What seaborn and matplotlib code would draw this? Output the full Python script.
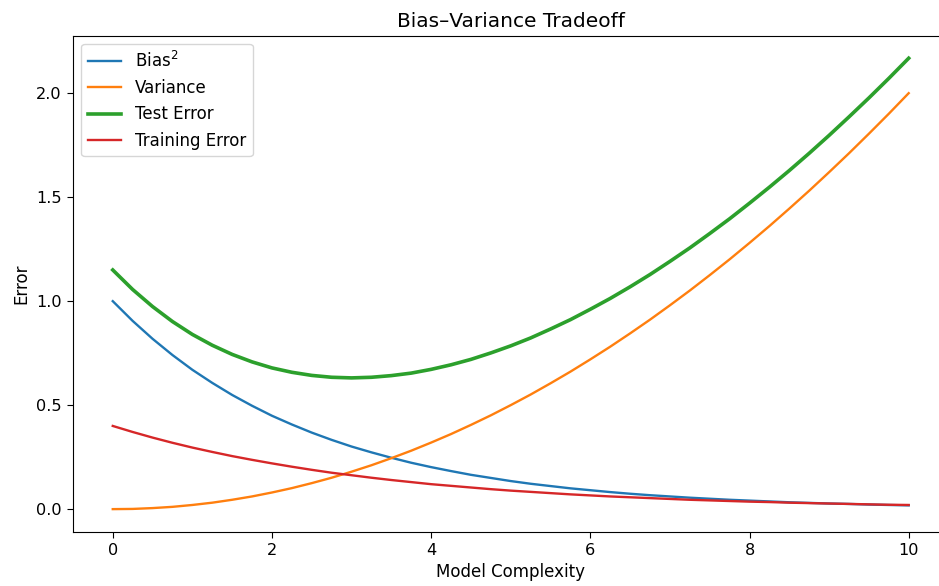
import matplotlib
matplotlib.use("Agg")
import matplotlib.pyplot as plt
import seaborn as sns
import pandas as pd

complexity = [0, 0.25, 0.5, 0.75, 1, 1.25, 1.5, 1.75, 2, 2.25, 2.5, 2.75, 3, 3.25, 3.5, 3.75,
              4, 4.25, 4.5, 4.75, 5, 5.25, 5.5, 5.75, 6, 6.25, 6.5, 6.75, 7, 7.25, 7.5, 7.75,
              8, 8.25, 8.5, 8.75, 9, 9.25, 9.5, 9.75, 10]
bias_sq = [1.000, 0.905, 0.819, 0.741, 0.670, 0.607, 0.549, 0.497, 0.449, 0.407, 0.368,
           0.333, 0.301, 0.273, 0.247, 0.223, 0.202, 0.183, 0.165, 0.150, 0.135,
           0.122, 0.111, 0.100, 0.091, 0.082, 0.074, 0.067, 0.061, 0.055, 0.050,
           0.045, 0.041, 0.037, 0.033, 0.030, 0.027, 0.025, 0.022, 0.020, 0.018]
variance = [0.000, 0.001, 0.005, 0.011, 0.020, 0.031, 0.045, 0.061, 0.080, 0.101, 0.125,
            0.151, 0.180, 0.211, 0.245, 0.281, 0.320, 0.361, 0.405, 0.451, 0.500,
            0.551, 0.605, 0.661, 0.720, 0.781, 0.845, 0.911, 0.980, 1.051, 1.125,
            1.201, 1.280, 1.361, 1.445, 1.531, 1.620, 1.711, 1.805, 1.901, 2.000]
test_error = [1.150, 1.056, 0.974, 0.902, 0.840, 0.788, 0.744, 0.708, 0.679, 0.658, 0.643,
              0.634, 0.631, 0.634, 0.642, 0.654, 0.672, 0.694, 0.720, 0.751, 0.785,
              0.823, 0.866, 0.911, 0.961, 1.013, 1.069, 1.128, 1.191, 1.256, 1.325,
              1.396, 1.471, 1.548, 1.628, 1.711, 1.797, 1.886, 1.977, 2.071, 2.168]
train_error = [0.400, 0.371, 0.344, 0.319, 0.296, 0.275, 0.255, 0.237, 0.220, 0.204, 0.189,
               0.175, 0.163, 0.151, 0.140, 0.130, 0.120, 0.112, 0.104, 0.096, 0.089,
               0.083, 0.077, 0.071, 0.066, 0.061, 0.057, 0.053, 0.049, 0.045, 0.042,
               0.039, 0.036, 0.034, 0.031, 0.029, 0.027, 0.025, 0.023, 0.021, 0.020]

df = pd.DataFrame({"x": complexity, "bias": bias_sq, "var": variance,
                   "test": test_error, "train": train_error})

plt.rcParams["font.family"] = ["DejaVu Sans"]
fig, ax = plt.subplots(figsize=(9.39, 5.86), dpi=100)
pal = sns.color_palette("tab10")
sns.lineplot(data=df, x="x", y="bias", ax=ax, color=pal[0], lw=1.7, label="Bias$^2$")
sns.lineplot(data=df, x="x", y="var", ax=ax, color=pal[1], lw=1.7, label="Variance")
sns.lineplot(data=df, x="x", y="test", ax=ax, color=pal[2], lw=2.6, label="Test Error")
sns.lineplot(data=df, x="x", y="train", ax=ax, color=pal[3], lw=1.7, label="Training Error")

ax.set_title("Bias–Variance Tradeoff", fontsize=14.5)
ax.set_xlabel("Model Complexity", fontsize=12)
ax.set_ylabel("Error", fontsize=12)
ax.tick_params(labelsize=11.6, length=4.5)
ax.legend(loc="upper left", fontsize=12)
fig.subplots_adjust(left=0.0777, right=1.0101, top=0.9391, bottom=0.0927)
fig.savefig("out.png", dpi=100)
